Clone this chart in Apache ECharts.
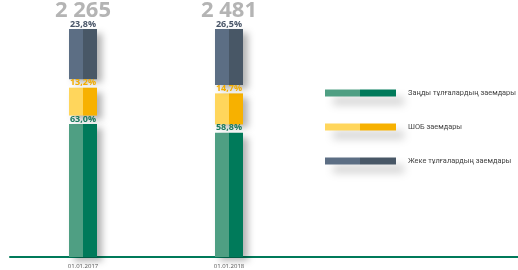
<!DOCTYPE html>
<html><head><meta charset="utf-8">
<script src="https://cdn.jsdelivr.net/npm/echarts@6/dist/echarts.min.js"></script>
<style>html,body{margin:0;padding:0;background:#fff}#c{width:518px;height:270px}</style>
</head><body><div id="c"></div>
<script>
var categories = ['01.01.2017', '01.01.2018'];
var totals = ['2 265', '2 481'];
var seriesNames = ['Заңды тұлғалардың заемдары', 'ШОБ заемдары', 'Жеке тұлғалардың заемдары'];
var legalShare = [63.0, 58.8];
var smeShare = [13.2, 14.7];
var retailShare = [23.8, 26.5];

var GAP = 4;
function two(a, b) {
  return { type: 'linear', x: 0, y: 0, x2: 1, y2: 0,
    colorStops: [{offset: 0, color: a}, {offset: 0.5, color: a}, {offset: 0.5, color: b}, {offset: 1, color: b}] };
}
function fmt(v) { return v.toFixed(1).replace('.', ','); }
var shadow = { shadowColor: 'rgba(0,0,0,0.3)', shadowBlur: 7, shadowOffsetX: 5, shadowOffsetY: 4 };
var FONT = 'Open Sans';
function seg(name, data, light, dark, labelColor, withTotal) {
  return {
    name: name, type: 'bar', stack: 's', data: data, barWidth: 28,
    xAxisIndex: 0, yAxisIndex: 0,
    itemStyle: Object.assign({ color: two(light, dark) }, shadow),
    label: {
      show: true, position: 'top', distance: 0,
      formatter: function (p) {
        var s = '{p|' + fmt(p.value) + '%}';
        return withTotal ? '{t|' + totals[p.dataIndex] + '}\n' + s : s;
      },
      rich: {
        p: { fontFamily: FONT, fontSize: 9, fontWeight: 'bold', color: labelColor, lineHeight: 10 },
        t: { fontFamily: FONT, fontSize: 22, fontWeight: 'bold', color: '#b4b4b4', lineHeight: 16 }
      }
    }
  };
}
function gap() {
  return { name: 'gap', type: 'bar', stack: 's', data: categories.map(function(){return GAP;}),
    barWidth: 28, silent: true, itemStyle: { color: 'rgba(0,0,0,0)' } };
}
var chart = echarts.init(document.getElementById('c'));
chart.setOption({
  animation: false,
  grid: [
    { left: 10, width: 292, top: 29, bottom: 13 },
    { left: 10, right: 0, top: 29, bottom: 13 }
  ],
  xAxis: [
    { type: 'category', data: categories, gridIndex: 0,
      axisLine: { show: false }, axisTick: { show: false },
      axisLabel: { fontFamily: FONT, fontSize: 6, color: '#555', margin: 6 } },
    { type: 'value', gridIndex: 1, min: 0, max: 1,
      axisLine: { show: true, lineStyle: { color: '#007a5a', width: 2 } },
      axisTick: { show: false }, axisLabel: { show: false }, splitLine: { show: false } }
  ],
  yAxis: [
    { type: 'value', gridIndex: 0, min: 0, max: 100 + 2 * GAP, show: false },
    { type: 'value', gridIndex: 1, min: 0, max: 1, show: false }
  ],
  legend: {
    orient: 'vertical', left: 325, top: 88, itemGap: 24, padding: 0,
    itemWidth: 71, itemHeight: 7, icon: 'rect',
    data: seriesNames,
    itemStyle: { shadowColor: 'rgba(0,0,0,0.2)', shadowBlur: 8, shadowOffsetX: 8, shadowOffsetY: 8 },
    textStyle: { fontFamily: 'Roboto', fontSize: 7.4, color: '#444', lineHeight: 10, padding: [0, 0, 0, 7] }
  },
  series: [
    seg(seriesNames[0], legalShare, '#4f9f83', '#007a5a', '#1a7a5c', false),
    gap(),
    seg(seriesNames[1], smeShare, '#ffd65c', '#f7b100', '#f2ac00', false),
    gap(),
    seg(seriesNames[2], retailShare, '#5c6e84', '#485766', '#4a5668', true)
  ]
});
</script></body></html>
